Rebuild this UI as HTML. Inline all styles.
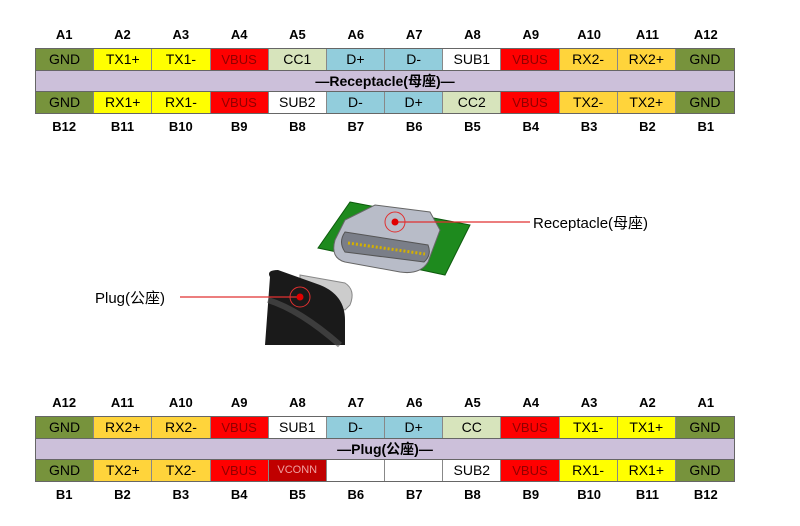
<!DOCTYPE html>
<html><head><meta charset="utf-8"><style>
body{margin:0;width:800px;height:526px;background:#fff;position:relative;overflow:hidden;font-family:"Liberation Sans","Noto Sans CJK SC",sans-serif}
.t{position:absolute;left:35px;width:700px}
.lab{display:flex;height:20px}
.lab div{width:58.33px;text-align:center;font-weight:bold;font-size:13px;line-height:20px}
.row{display:flex;height:23px;border:1px solid #666;box-sizing:border-box}
.row div{width:58.33px;text-align:center;font-size:14px;line-height:21px;border-right:1px solid #888;box-sizing:border-box}
.row div:last-child{border-right:none}
.band{height:20px;background:#ccc0da;text-align:center;font-weight:bold;font-size:14px;line-height:20px;border-left:1px solid #666;border-right:1px solid #666;box-sizing:border-box}
.g{background:#77933c}.y{background:#ffff00}.o{background:#ffd43b}.r{background:#ff0000;color:#900000;font-size:13px!important}.c{background:#d7e4bc}.b{background:#92cddc}.w{background:#fff}.dr{background:#c00000;color:#f0a0a0;font-size:11px!important}
.lbl{position:absolute;font-size:15px}
</style></head><body>
<div class="t" style="top:25px">
<div class="lab"><div>A1</div><div>A2</div><div>A3</div><div>A4</div><div>A5</div><div>A6</div><div>A7</div><div>A8</div><div>A9</div><div>A10</div><div>A11</div><div>A12</div></div>
<div class="row" style="margin-top:3px"><div class="g">GND</div><div class="y">TX1+</div><div class="y">TX1-</div><div class="r">VBUS</div><div class="c">CC1</div><div class="b">D+</div><div class="b">D-</div><div class="w">SUB1</div><div class="r">VBUS</div><div class="o">RX2-</div><div class="o">RX2+</div><div class="g">GND</div></div>
<div class="band">—Receptacle(母座)—</div>
<div class="row"><div class="g">GND</div><div class="y">RX1+</div><div class="y">RX1-</div><div class="r">VBUS</div><div class="w">SUB2</div><div class="b">D-</div><div class="b">D+</div><div class="c">CC2</div><div class="r">VBUS</div><div class="o">TX2-</div><div class="o">TX2+</div><div class="g">GND</div></div>
<div class="lab" style="margin-top:3px"><div>B12</div><div>B11</div><div>B10</div><div>B9</div><div>B8</div><div>B7</div><div>B6</div><div>B5</div><div>B4</div><div>B3</div><div>B2</div><div>B1</div></div>
</div>
<div class="t" style="top:393px">
<div class="lab"><div>A12</div><div>A11</div><div>A10</div><div>A9</div><div>A8</div><div>A7</div><div>A6</div><div>A5</div><div>A4</div><div>A3</div><div>A2</div><div>A1</div></div>
<div class="row" style="margin-top:3px"><div class="g">GND</div><div class="o">RX2+</div><div class="o">RX2-</div><div class="r">VBUS</div><div class="w">SUB1</div><div class="b">D-</div><div class="b">D+</div><div class="c">CC</div><div class="r">VBUS</div><div class="y">TX1-</div><div class="y">TX1+</div><div class="g">GND</div></div>
<div class="band">—Plug(公座)—</div>
<div class="row"><div class="g">GND</div><div class="o">TX2+</div><div class="o">TX2-</div><div class="r">VBUS</div><div class="dr">VCONN</div><div class="w"></div><div class="w"></div><div class="w">SUB2</div><div class="r">VBUS</div><div class="y">RX1-</div><div class="y">RX1+</div><div class="g">GND</div></div>
<div class="lab" style="margin-top:3px"><div>B1</div><div>B2</div><div>B3</div><div>B4</div><div>B5</div><div>B6</div><div>B7</div><div>B8</div><div>B9</div><div>B10</div><div>B11</div><div>B12</div></div>
</div>
<svg style="position:absolute;left:0;top:0" width="800" height="526">
<polygon points="350,202 470,225 445,275 318,248" fill="#1e8a1e" stroke="#0d5a0d"/>
<path d="M375,205 L430,212 L440,230 L428,262 Q420,275 400,272 L345,262 Q330,258 335,240 L345,220 Z" fill="#b8bcc8" stroke="#666"/>
<path d="M345,232 L428,245 Q432,255 424,262 L345,252 Q338,242 345,232Z" fill="#7a7e88" stroke="#555"/>
<line x1="348" y1="243" x2="425" y2="254" stroke="#d4b000" stroke-width="3" stroke-dasharray="2,2"/>
<path d="M300,275 L345,283 Q356,290 350,305 L345,310 L300,300Z" fill="#ccc" stroke="#888"/>
<path d="M270,277 Q266,270 278,270 L320,285 Q345,295 345,320 L345,345 L265,345 Z" fill="#1a1a1a"/>
<path d="M268,300 Q300,310 340,345" stroke="#555" stroke-width="6" fill="none" opacity=".6"/>
<line x1="395" y1="222" x2="530" y2="222" stroke="#e03030" stroke-width="1.2"/>
<circle cx="395" cy="222" r="10" fill="none" stroke="#e03030"/><circle cx="395" cy="222" r="3.5" fill="#e00000"/>
<line x1="180" y1="297" x2="300" y2="297" stroke="#e03030" stroke-width="1.2"/>
<circle cx="300" cy="297" r="10" fill="none" stroke="#e03030"/><circle cx="300" cy="297" r="3.5" fill="#e00000"/>
</svg>
<div class="lbl" style="left:533px;top:212px">Receptacle(母座)</div>
<div class="lbl" style="left:95px;top:287px">Plug(公座)</div>
</body></html>
